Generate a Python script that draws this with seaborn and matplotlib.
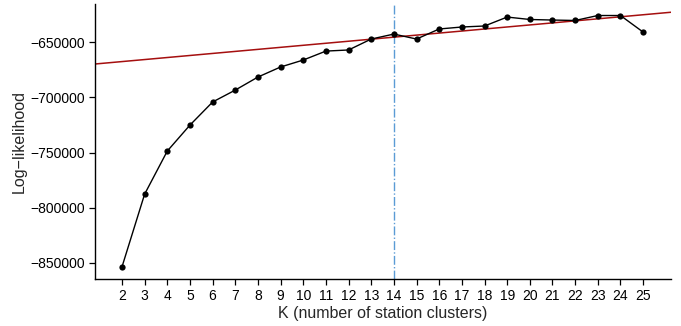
import numpy as np
import pandas as pd
import matplotlib
matplotlib.use("Agg")
import matplotlib.pyplot as plt
import seaborn as sns

# number of station clusters
k_values = list(range(2, 26))
log_likelihood = [
    -853600, -787700, -748700, -725200, -704300, -693500, -681700, -672600,
    -666300, -658200, -657200, -647300, -642800, -647300, -638200, -636400,
    -635500, -627400, -629600, -630100, -630500, -626000, -626000, -641000,
]
chosen_k = 14
trend_intercept = -671390
trend_slope = 1843

df = pd.DataFrame({"K": k_values, "loglik": log_likelihood})

sns.set_theme(style="ticks")
plt.rcParams["font.family"] = ["Liberation Sans", "DejaVu Sans"]

fig = plt.figure(figsize=(6.81, 3.26), dpi=100)
ax = fig.add_axes([95 / 681, 47 / 326, (671 - 95) / 681, (279 - 4) / 326])

xlim = (0.81, 26.23)
ax.set_xlim(*xlim)
ax.set_ylim(-864500, -615580)

# linear trend across the whole panel
xs = np.array(xlim)
ax.plot(xs, trend_intercept + trend_slope * xs, color="#a50f0f", lw=1.1, zorder=2)

ax.axvline(chosen_k, color="#5b9bd5", lw=1.0, ls="-.", zorder=1)

sns.lineplot(data=df, x="K", y="loglik", color="black", lw=1.0,
             marker="o", markersize=4.5, markeredgewidth=0, ax=ax, zorder=3)

ax.set_xticks(k_values)
ax.set_yticks([-850000, -800000, -750000, -700000, -650000])
ax.set_yticklabels(["\u2212850000", "\u2212800000", "\u2212750000",
                    "\u2212700000", "\u2212650000"])
ax.tick_params(axis="both", labelsize=10, colors="black", length=4, width=0.9)
ax.set_xlabel("K (number of station clusters)", fontsize=11.5, labelpad=2)
ax.set_ylabel("Log\u2212likelihood", fontsize=11.5, labelpad=2)
sns.despine(ax=ax)
for sp in ("left", "bottom"):
    ax.spines[sp].set_linewidth(1.0)
    ax.spines[sp].set_color("black")

fig.savefig("out.png", dpi=100)
